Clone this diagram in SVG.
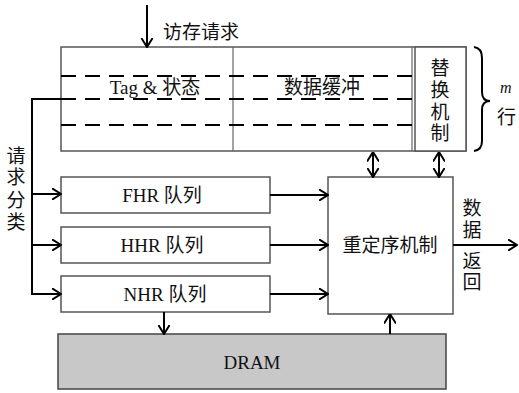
<svg xmlns="http://www.w3.org/2000/svg" width="519" height="393" viewBox="0 0 519 393">
<defs>
<marker id="ah" viewBox="0 0 10 12" refX="9.5" refY="6" markerWidth="10" markerHeight="12" markerUnits="userSpaceOnUse" orient="auto-start-reverse">
<path d="M0,0 L9.5,6 L0,12" fill="none" stroke="#000" stroke-width="2"/>
</marker>
<style>
.box{fill:#fff;stroke:#555;stroke-width:1.5}
.dash{stroke:#000;stroke-width:2.2;stroke-dasharray:15,9;fill:none}
.ln{stroke:#000;stroke-width:2;fill:none}
.t{font-family:"Liberation Serif","Noto Sans CJK SC",serif;font-size:19px;fill:#111}
.c{text-anchor:middle}
</style>
</defs>
<rect width="519" height="393" fill="#fff"/>
<g id="cache">
<rect class="box" x="61" y="47" width="405" height="104"/>
<line x1="233" y1="47" x2="233" y2="151" stroke="#666" stroke-width="1.2"/>
<line x1="412" y1="47" x2="412" y2="151" stroke="#666" stroke-width="1.2"/>
<line class="dash" x1="61" y1="76" x2="412" y2="76"/>
<line class="dash" x1="61" y1="99" x2="412" y2="99"/>
<line class="dash" x1="61" y1="125" x2="412" y2="125"/>
<text class="t c" x="155" y="94">Tag &amp; 状态</text>
<text class="t c" x="322" y="94">数据缓冲</text>
</g>
<g id="replace">
<rect class="box" x="415" y="47" width="51" height="104"/>
<text class="t c" x="440" y="75">替</text>
<text class="t c" x="440" y="97">换</text>
<text class="t c" x="440" y="119">机</text>
<text class="t c" x="440" y="140">制</text>
</g>
<g id="brace">
<path d="M474,47 Q482,48 482,58 L482,92 Q482,101 490,101 Q482,101 482,110 L482,141 Q482,150 474,151" fill="none" stroke="#000" stroke-width="2"/>
<text class="t" x="500" y="93" style="font-style:italic;font-size:16px">m</text>
<text class="t" x="497" y="124">行</text>
</g>
<g id="fhr">
<rect class="box" x="61" y="177" width="209" height="36"/>
<text class="t c" x="162" y="202">FHR 队列</text>
</g>
<g id="hhr">
<rect class="box" x="61" y="227" width="209" height="36"/>
<text class="t c" x="162" y="252">HHR 队列</text>
</g>
<g id="nhr">
<rect class="box" x="61" y="276" width="209" height="36"/>
<text class="t c" x="165" y="301">NHR 队列</text>
</g>
<g id="reorder">
<rect class="box" x="328" y="177" width="125" height="137"/>
<text class="t c" x="390" y="252">重定序机制</text>
</g>
<g id="dram">
<rect x="58" y="334" width="388" height="55" fill="#c8c8c8" stroke="#444" stroke-width="1.5"/>
<text class="t c" x="252" y="369">DRAM</text>
</g>
<g id="labels">
<text class="t" x="163" y="39">访存请求</text>
<text class="t c" x="16" y="163">请</text>
<text class="t c" x="16" y="184">求</text>
<text class="t c" x="16" y="207">分</text>
<text class="t c" x="16" y="229">类</text>
<text class="t c" x="472" y="215">数</text>
<text class="t c" x="472" y="237">据</text>
<text class="t c" x="472" y="268">返</text>
<text class="t c" x="472" y="289">回</text>
</g>
<g id="connectors">
<line class="ln" x1="147" y1="5" x2="147" y2="47" marker-end="url(#ah)"/>
<polyline class="ln" points="61,99 32,99 32,294"/>
<line class="ln" x1="32" y1="194" x2="61" y2="194" marker-end="url(#ah)"/>
<line class="ln" x1="32" y1="245" x2="61" y2="245" marker-end="url(#ah)"/>
<line class="ln" x1="31" y1="294" x2="61" y2="294" marker-end="url(#ah)"/>
<line class="ln" x1="270" y1="195" x2="328" y2="195" marker-end="url(#ah)"/>
<line class="ln" x1="270" y1="245" x2="328" y2="245" marker-end="url(#ah)"/>
<line class="ln" x1="270" y1="294" x2="328" y2="294" marker-end="url(#ah)"/>
<line class="ln" x1="373" y1="152" x2="373" y2="177" marker-start="url(#ah)" marker-end="url(#ah)"/>
<line class="ln" x1="439" y1="152" x2="439" y2="177" marker-start="url(#ah)" marker-end="url(#ah)"/>
<line class="ln" x1="453" y1="245" x2="517" y2="245" marker-end="url(#ah)"/>
<line class="ln" x1="164" y1="312" x2="164" y2="334" marker-end="url(#ah)"/>
<line class="ln" x1="390" y1="334" x2="390" y2="314" marker-end="url(#ah)"/>
</g>
</svg>
